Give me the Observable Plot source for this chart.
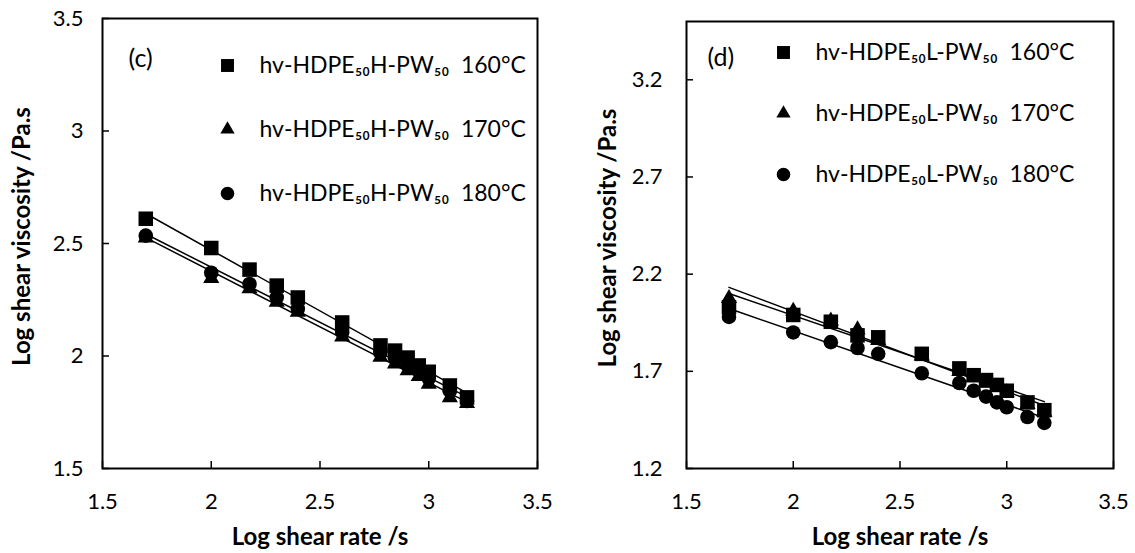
<!DOCTYPE html>
<html>
<head>
<meta charset="utf-8">
<script src="https://cdn.jsdelivr.net/npm/d3@7"></script>
<script src="https://cdn.jsdelivr.net/npm/@observablehq/plot@0.6"></script>
<style>
  body { margin: 0; background: #fff; }
  #wrap { position: relative; width: 1135px; height: 553px; font-family: Lato, "Open Sans", sans-serif; }
  #wrap > div { position: absolute; top: 0; }
  #panelC { left: 0; }
  #panelD { left: 567px; }
</style>
</head>
<body>
<div id="wrap"><div id="panelC"></div><div id="panelD"></div></div>
<script>
// Log shear rate (x) shared by all series
const logShearRate = [1.699, 2.0, 2.176, 2.301, 2.398, 2.602, 2.778, 2.845, 2.903, 2.954, 3.0, 3.097, 3.176];

// Panel (c): hv-HDPE50H-PW50
const c160 = [2.61, 2.48, 2.384, 2.313, 2.26, 2.149, 2.047, 2.024, 1.993, 1.958, 1.93, 1.869, 1.816];
const c170 = [2.525, 2.345, 2.30, 2.24, 2.195, 2.085, 1.995, 1.965, 1.935, 1.91, 1.875, 1.815, 1.79];
const c180 = [2.535, 2.37, 2.32, 2.26, 2.21, 2.105, 2.015, 1.99, 1.96, 1.935, 1.90, 1.845, 1.80];

// Panel (d): hv-HDPE50L-PW50
const d160 = [2.03, 1.99, 1.955, 1.885, 1.875, 1.79, 1.715, 1.68, 1.655, 1.63, 1.60, 1.54, 1.50];
const d170 = [2.075, 2.01, 1.96, 1.915, 1.86, 1.78, 1.70, 1.67, 1.64, 1.62, 1.59, 1.53, 1.49];
const d180 = [1.98, 1.90, 1.85, 1.82, 1.79, 1.69, 1.64, 1.60, 1.57, 1.54, 1.515, 1.465, 1.435];

const temps = ["160°C", "170°C", "180°C"];
const symbols = ["square", "triangle", "circle"];
const xTicks = [1.5, 2, 2.5, 3, 3.5];
const yTicksC = [1.5, 2, 2.5, 3, 3.5];
const yTicksD = [1.2, 1.7, 2.2, 2.7, 3.2];
const materialC = "hv-HDPE₅₀H-PW₅₀";
const materialD = "hv-HDPE₅₀L-PW₅₀";
const xTitle = "Log shear rate /s";
const yTitle = "Log shear viscosity /Pa.s";

function rows(series) {
  const out = [];
  series.forEach((vals, i) => vals.forEach((v, j) => out.push({x: logShearRate[j], y: v, temp: temps[i], symbol: symbols[i]})));
  return out;
}

function panel({data, yDomain, yTicks, material, tag, marginLeft, marginRight, marginTop, width, yPad, yTitleDx, legend}) {
  const marks = [];
  // data points
  for (const s of symbols) {
    const r = s === "triangle" ? 6 : s === "square" ? 8.2 : 7.3;
    marks.push(Plot.dot(data.filter(d => d.symbol === s), {x: "x", y: "y", symbol: () => s, r, fill: "black", stroke: "none"}));
  }
  // trend lines
  marks.push(Plot.linearRegressionY(data, {x: "x", y: "y", z: "temp", ci: 0, stroke: "black", strokeWidth: 1.5}));
  // legend
  temps.forEach((t, i) => {
    const dy = legend.dy0 + i * legend.step;
    const s = symbols[i];
    const r = s === "triangle" ? 5.3 : s === "square" ? 7.3 : 6.8;
    marks.push(Plot.dot([t], {frameAnchor: "top-left", dx: legend.mx, dy, symbol: () => s, r, fill: "black", stroke: "none"}));
    marks.push(Plot.text([`${material}\u00a0\u00a0${t}`], {frameAnchor: "top-left", dx: legend.tx, dy, text: d => d, textAnchor: "start", lineAnchor: "middle", fontSize: 23, fill: "black"}));
  });
  marks.push(Plot.text([tag], {frameAnchor: "top-left", dx: legend.tagx, dy: legend.tagy, text: d => d, textAnchor: "start", lineAnchor: "middle", fontSize: 25, fill: "black"}));
  // axes
  marks.push(Plot.axisX({ticks: xTicks, tickSize: -7, tickPadding: 32, tickFormat: d => String(d), label: null, fontSize: 22, strokeWidth: 1.5}));
  marks.push(Plot.axisY({ticks: yTicks, tickSize: -7, tickPadding: yPad, tickFormat: d => String(d), label: null, fontSize: 22, strokeWidth: 1.5}));
  marks.push(Plot.text([xTitle], {frameAnchor: "bottom", dy: 69, text: d => d, textAnchor: "middle", lineAnchor: "middle", fontSize: 24, fontWeight: "bold", fill: "black"}));
  marks.push(Plot.text([yTitle], {frameAnchor: "left", dx: yTitleDx, dy: -7, rotate: -90, text: d => d, textAnchor: "middle", lineAnchor: "middle", fontSize: 24, fontWeight: "bold", fill: "black"}));
  marks.push(Plot.frame({stroke: "black", strokeWidth: 2}));
  return Plot.plot({
    width, height: 553,
    marginLeft, marginRight, marginTop, marginBottom: 85,
    x: {domain: [1.5, 3.5]},
    y: {domain: yDomain},
    style: {fontFamily: "Lato, 'Open Sans', sans-serif", fontSize: "22px", color: "black", background: "white", overflow: "visible"},
    marks
  });
}

document.getElementById("panelC").appendChild(panel({
  data: rows([c160, c170, c180]), yDomain: [1.5, 3.5], yTicks: yTicksC, material: materialC, tag: "(c)",
  marginLeft: 102, marginRight: 30, marginTop: 18, width: 567, yPad: 26, yTitleDx: -80,
  legend: {mx: 125, tx: 157, dy0: 47, step: 64, tagx: 26, tagy: 40}
}));
document.getElementById("panelD").appendChild(panel({
  data: rows([d160, d170, d180]), yDomain: [1.2, 3.5], yTicks: yTicksD, material: materialD, tag: "(d)",
  marginLeft: 119, marginRight: 22, marginTop: 21, width: 568, yPad: 31, yTitleDx: -78,
  legend: {mx: 97, tx: 129, dy0: 31, step: 61, tagx: 21, tagy: 36}
}));
</script>
</body>
</html>
